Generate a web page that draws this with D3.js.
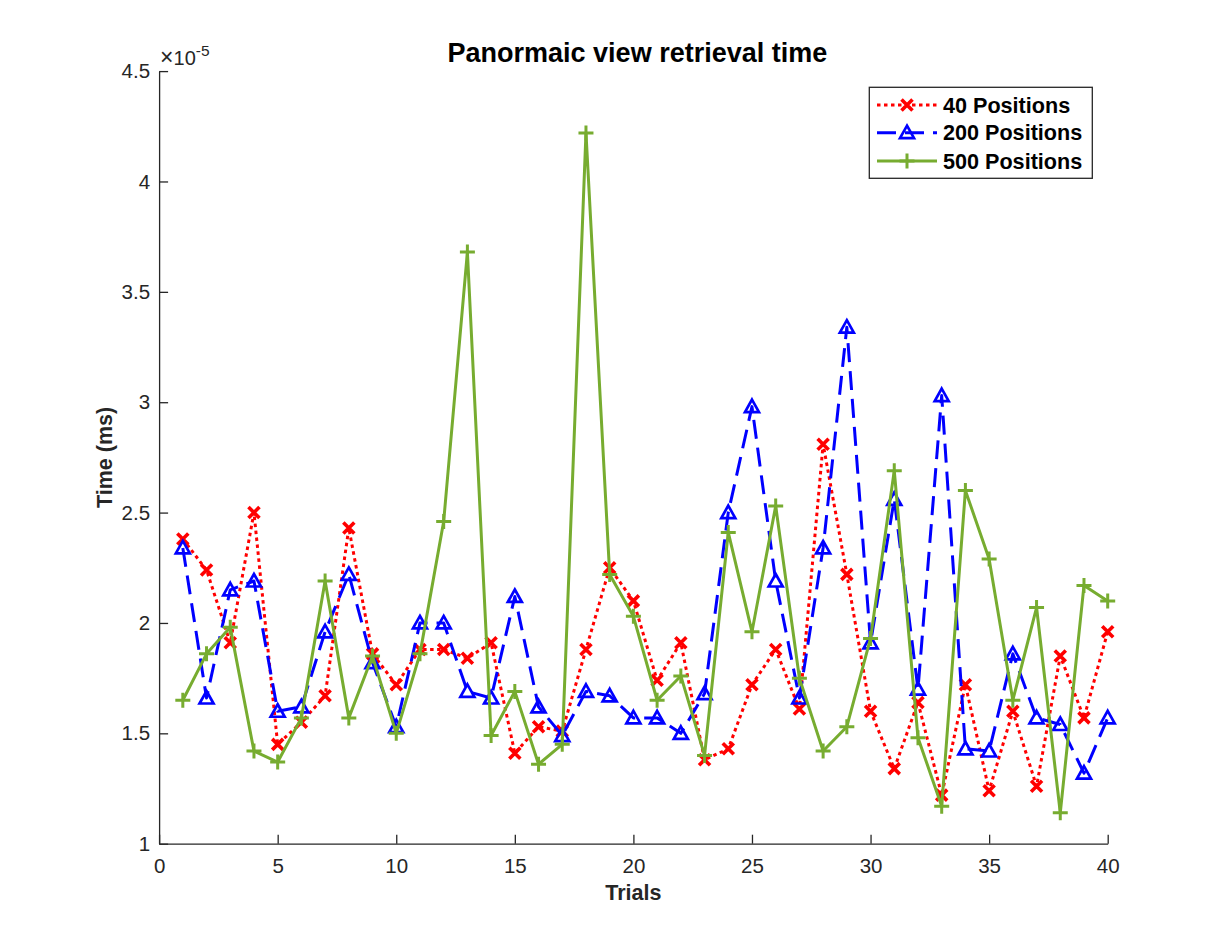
<!DOCTYPE html>
<html lang="en">
<head>
<meta charset="utf-8">
<title>Panormaic view retrieval time</title>
<script type="text/javascript" src="https://cdn.jsdelivr.net/npm/d3@7"></script>
<style>
  body {
    margin: 0;
    background-color: white;
  }

  svg text {
    font-family: "Liberation Sans", Arial, Helvetica, sans-serif;
  }

  .axis path, .axis line {
    stroke: #262626;
  }

  .axis text {
    fill: #262626;
  }
</style>
</head>
<body>
<script type="text/javascript">
  // trial numbers on x
  let trials = [1, 2, 3, 4, 5, 6, 7, 8, 9, 10,
    11, 12, 13, 14, 15, 16, 17, 18, 19, 20,
    21, 22, 23, 24, 25, 26, 27, 28, 29, 30,
    31, 32, 33, 34, 35, 36, 37, 38, 39, 40]

  // times, in units of 1e-5 (the axis multiplier)
  let pos40 = [2.38, 2.24, 1.91, 2.50, 1.45, 1.55, 1.67, 2.43, 1.86, 1.72,
    1.88, 1.88, 1.84, 1.91, 1.41, 1.53, 1.51, 1.88, 2.25, 2.10,
    1.74, 1.91, 1.38, 1.43, 1.72, 1.88, 1.61, 2.81, 2.22, 1.60,
    1.34, 1.64, 1.22, 1.72, 1.24, 1.60, 1.26, 1.85, 1.57, 1.96]

  let pos200 = [2.34, 1.66, 2.15, 2.19, 1.60, 1.62, 1.96, 2.22, 1.82, 1.53,
    2.00, 2.00, 1.69, 1.66, 2.12, 1.62, 1.49, 1.69, 1.67, 1.57,
    1.57, 1.50, 1.68, 2.50, 2.98, 2.19, 1.66, 2.34, 3.34, 1.91,
    2.56, 1.70, 3.03, 1.43, 1.42, 1.86, 1.57, 1.54, 1.32, 1.57]

  let pos500 = [1.65, 1.86, 1.98, 1.42, 1.37, 1.57, 2.19, 1.57, 1.85, 1.50,
    1.86, 2.46, 3.68, 1.49, 1.69, 1.36, 1.45, 4.22, 2.22, 2.03,
    1.65, 1.76, 1.40, 2.41, 1.96, 2.53, 1.75, 1.42, 1.53, 1.93,
    2.69, 1.48, 1.17, 2.60, 2.29, 1.65, 2.07, 1.14, 2.17, 2.10]

  let seriesNames = ["40 Positions", "200 Positions", "500 Positions"]
  let xTicks = [0, 5, 10, 15, 20, 25, 30, 35, 40]
  let yTicks = [1, 1.5, 2, 2.5, 3, 3.5, 4, 4.5]

  let w = 1224;
  let h = 948;
  let plotLeft = 159.1, plotRight = 1107.7, plotTop = 71.1, plotBottom = 843.7

  let series = [
    {name: seriesNames[0], values: pos40, color: "#ff0000", dash: "3.5,3.5", marker: "x"},
    {name: seriesNames[1], values: pos200, color: "#0000ff", dash: "19,9", marker: "tri"},
    {name: seriesNames[2], values: pos500, color: "#77ac30", dash: null, marker: "plus"}
  ]

  let xScale = d3.scaleLinear()
    .domain([0, 40])
    .range([plotLeft, plotRight]);

  let yScale = d3.scaleLinear()
    .domain([1, 4.5])
    .range([plotBottom, plotTop]);

  let svg = d3.select("body")
    .append("svg")
    .attr("width", w)
    .attr("height", h)

  // matlab style axes: ticks point inward, no box
  let xAxis = d3.axisBottom(xScale)
    .tickValues(xTicks)
    .tickSizeInner(-9)
    .tickSizeOuter(0)
    .tickPadding(15)
    .tickFormat(d3.format("d"));

  let yAxis = d3.axisLeft(yScale)
    .tickValues(yTicks)
    .tickSizeInner(-9)
    .tickSizeOuter(0)
    .tickPadding(9)
    .tickFormat((d) => String(d));

  let gx = svg.append("g")
    .attr("class", "x axis")
    .attr("transform", "translate(0," + plotBottom + ")")
    .call(xAxis);

  let gy = svg.append("g")
    .attr("class", "y axis")
    .attr("transform", "translate(" + plotLeft + ",0)")
    .call(yAxis);

  svg.selectAll(".axis path").attr("stroke-width", 1.3);
  svg.selectAll(".axis line").attr("stroke-width", 1.3);
  svg.selectAll(".axis text").attr("font-size", "20.5px");
  gx.selectAll("text").attr("dy", "0.71em");

  // exponent label
  let expo = svg.append("text")
    .attr("x", plotLeft + 1)
    .attr("y", 65)
    .attr("fill", "#262626")
    .attr("font-size", "20px");
  expo.append("tspan").attr("font-size", "23px").text("\u00d7");
  expo.append("tspan").text("10");
  expo.append("tspan")
    .attr("dy", -9)
    .attr("font-size", "15.5px")
    .text("-5");

  // marker drawing helper
  function drawMarker(g, type, color) {
    if(type === "x") {
      g.append("path")
        .attr("d", "M-5.5,-5.5L5.5,5.5M-5.5,5.5L5.5,-5.5")
        .attr("stroke", color)
        .attr("stroke-width", 3.6)
        .attr("fill", "none");
    } else if(type === "tri") {
      g.append("path")
        .attr("d", "M0,-7L7,5.5L-7,5.5Z")
        .attr("stroke", color)
        .attr("stroke-width", 2.7)
        .attr("fill", "none");
    } else {
      g.append("path")
        .attr("d", "M-7.5,0L7.5,0M0,-7.5L0,7.5")
        .attr("stroke", color)
        .attr("stroke-width", 3)
        .attr("fill", "none");
    }
  }

  let line = d3.line()
    .x((d) => xScale(d[0]))
    .y((d) => yScale(d[1]));

  series.forEach(function(s) {
    let pts = trials.map((t, i) => [t, s.values[i]])
    let g = svg.append("g")

    g.append("path")
      .datum(pts)
      .attr("d", line)
      .attr("fill", "none")
      .attr("stroke", s.color)
      .attr("stroke-width", 3)
      .attr("stroke-linejoin", "round")
      .attr("stroke-dasharray", s.dash);

    g.selectAll("g.mk")
      .data(pts)
      .enter()
      .append("g")
      .attr("class", "mk")
      .attr("transform", (d) => "translate(" + xScale(d[0]) + "," + yScale(d[1]) + ")")
      .each(function() {
        drawMarker(d3.select(this), s.marker, s.color)
      });
  })

  // title and axis labels
  svg.append("text")
    .attr("x", (plotLeft + plotRight) / 2 + 4)
    .attr("y", 62)
    .attr("text-anchor", "middle")
    .attr("font-size", "27px")
    .attr("font-weight", "bold")
    .attr("fill", "#000")
    .text("Panormaic view retrieval time");

  svg.append("text")
    .attr("x", (plotLeft + plotRight) / 2)
    .attr("y", 900)
    .attr("text-anchor", "middle")
    .attr("font-size", "21.5px")
    .attr("font-weight", "bold")
    .attr("fill", "#262626")
    .text("Trials");

  svg.append("text")
    .attr("transform", "translate(112," + (plotTop + plotBottom) / 2 + ") rotate(-90)")
    .attr("text-anchor", "middle")
    .attr("font-size", "21.5px")
    .attr("font-weight", "bold")
    .attr("fill", "#262626")
    .text("Time (ms)");

  // legend
  let legend = svg.append("g")

  legend.append("rect")
    .attr("x", 869.3)
    .attr("y", 87.3)
    .attr("width", 223)
    .attr("height", 91)
    .attr("fill", "white")
    .attr("stroke", "#262626")
    .attr("stroke-width", 1.3);

  let legendY = [105, 132.7, 161]

  series.forEach(function(s, i) {
    let row = legend.append("g")
      .attr("transform", "translate(0," + legendY[i] + ")")

    row.append("line")
      .attr("x1", 877)
      .attr("x2", 937)
      .attr("stroke", s.color)
      .attr("stroke-width", 3)
      .attr("stroke-dasharray", s.dash);

    drawMarker(row.append("g").attr("transform", "translate(907,0)"), s.marker, s.color)

    row.append("text")
      .attr("x", 943)
      .attr("y", 7.5)
      .attr("font-size", "21.6px")
      .attr("font-weight", "bold")
      .attr("fill", "#000")
      .text(s.name);
  })
</script>
</body>
</html>
